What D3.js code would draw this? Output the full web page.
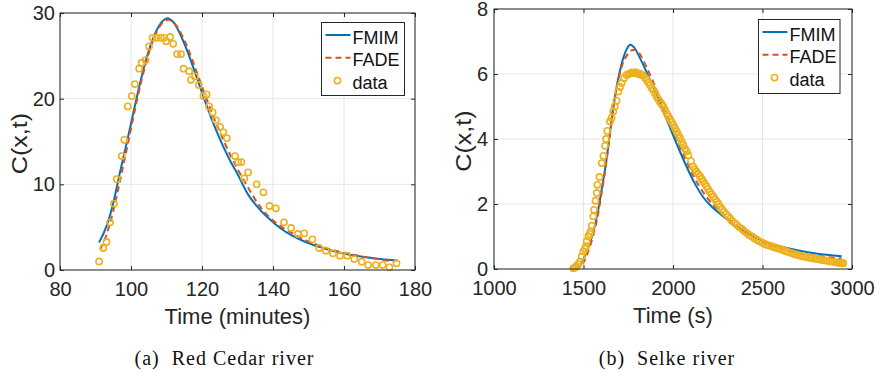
<!DOCTYPE html>
<html>
<head>
<meta charset="utf-8">
<script src="https://cdn.jsdelivr.net/npm/d3@7"></script>
<style>
	body { margin: 0; background: #fff; }
	svg { display: block; font-family: "Liberation Sans", Arial, sans-serif; }
	.grid line { stroke: #e6e6e6; stroke-width: 1; }
	.axis text { fill: #262626; font-size: 20px; }
	.axis line { stroke: #262626; }
	.axis path { display: none; }
	.label { fill: #262626; font-size: 22px; }
	.caption { fill: #111; font-family: "Liberation Serif", "Times New Roman", serif; font-size: 20px; letter-spacing: 1px; }
	.legend text { fill: #111; font-size: 18px; }
</style>
</head>
<body>
<div id="chart"></div>
<script>
// (a) Red Cedar river, time in minutes
const cedarTicksX = [80, 100, 120, 140, 160, 180];
const cedarTicksY = [0, 10, 20, 30];
const cedarFmim = [[91, 3.2], [93, 5.0], [95, 7.8], [97, 11.6], [99, 15.2], [101, 19.0], [103, 22.6],
	[105, 25.6], [107, 27.8], [109, 29.1], [110.2, 29.4], [112, 28.9], [114, 27.4], [116, 25.4],
	[118, 23.1], [120, 20.7], [122, 18.4], [124, 16.3], [126, 14.4], [128, 12.7], [130, 11.2],
	[133, 8.8], [136, 7.2], [139, 5.95], [142, 4.9], [145, 4.1], [149, 3.3], [153, 2.7], [158, 2.1],
	[163, 1.7], [169, 1.35], [175, 1.1]];
const cedarFade = [[91.3, 2.4], [93, 4.0], [95, 6.9], [97, 10.6], [99, 14.5], [101, 18.5], [103, 22.2],
	[105, 25.3], [107, 27.6], [109, 28.9], [110.5, 29.2], [112, 28.9], [114, 27.7], [116, 25.9],
	[118, 23.7], [120, 21.4], [122, 19.2], [124, 17.1], [126, 15.2], [128, 13.4], [130, 11.8],
	[133, 9.6], [136, 7.6], [139, 6.15], [142, 5.15], [145, 4.4], [149, 3.5], [153, 2.85], [158, 2.2],
	[163, 1.75], [169, 1.3], [174, 1.0]];
const cedarData = [[91.0, 1.0], [92.2, 2.57], [93.1, 3.27], [94.1, 5.56], [95.2, 7.74], [96.0, 10.6],
	[97.4, 13.3], [98.1, 15.2], [99.1, 19.1], [100.2, 20.3], [101.1, 21.7], [102.3, 23.5], [103.0, 24.2],
	[104.1, 24.5], [105.1, 26.1], [106.1, 27.1], [107.2, 27.1], [108.4, 27.1], [109.3, 27.1],
	[109.9, 26.7], [111.0, 27.2], [111.9, 26.4], [113.0, 25.2], [114.1, 25.2], [114.8, 23.5],
	[116.4, 23.2], [116.9, 22.2], [118.0, 22.6], [119.1, 21.6], [120.4, 20.3], [121.3, 20.5],
	[122.0, 19.1], [123.0, 18.4], [123.9, 17.5], [125.1, 16.7], [126.0, 16.1], [127.0, 15.4],
	[129.3, 13.3], [130.2, 12.6], [131.1, 12.6], [131.9, 10.7], [133.0, 11.4], [135.4, 10.0],
	[137.3, 9.07], [139.0, 7.47], [140.8, 7.2], [143.1, 5.56], [145.1, 4.9], [147.0, 4.2],
	[148.8, 4.28], [151.1, 3.58], [153.0, 2.57], [154.9, 2.26], [156.9, 1.94], [158.9, 1.67],
	[160.9, 1.67], [162.9, 1.28], [165.0, 0.97], [166.8, 0.58], [169.0, 0.58], [170.9, 0.58],
	[172.8, 0.31], [174.8, 0.78]];

// (b) Selke river, time in seconds
const selkeTicksX = [1000, 1500, 2000, 2500, 3000];
const selkeTicksY = [0, 2, 4, 6, 8];
const selkeFmim = [[1450, 0.0], [1480, 0.1], [1500, 0.3], [1530, 0.7], [1555, 1.15], [1580, 1.75],
	[1600, 2.4], [1620, 3.05], [1640, 3.85], [1667, 5.0], [1690, 5.75], [1715, 6.35], [1740, 6.75],
	[1762, 6.9], [1785, 6.8], [1810, 6.55], [1853, 6.05], [1890, 5.6], [1927, 5.1], [1965, 4.6],
	[2002, 4.1], [2040, 3.6], [2080, 3.1], [2120, 2.65], [2170, 2.2], [2220, 1.9], [2281, 1.62],
	[2350, 1.32], [2420, 1.1], [2504, 0.86], [2600, 0.69], [2700, 0.57], [2800, 0.48], [2942, 0.39]];
const selkeFade = [[1450, 0.0], [1480, 0.05], [1500, 0.2], [1530, 0.6], [1555, 1.05], [1580, 1.65],
	[1600, 2.3], [1620, 3.0], [1640, 3.8], [1667, 4.95], [1690, 5.7], [1715, 6.25], [1740, 6.55],
	[1765, 6.72], [1790, 6.75], [1810, 6.65], [1853, 6.2], [1890, 5.75], [1927, 5.25], [1965, 4.75],
	[2002, 4.25], [2040, 3.75], [2080, 3.25], [2120, 2.8], [2170, 2.35], [2220, 2.0], [2281, 1.68],
	[2350, 1.35], [2420, 1.08], [2504, 0.82], [2600, 0.62], [2700, 0.49], [2800, 0.41], [2942, 0.32]];
const selkeData = [[1443, 0.02], [1452, 0.05], [1460, 0.08], [1470, 0.15], [1480, 0.23], [1490, 0.39],
	[1499, 0.54], [1508, 0.62], [1514, 0.70], [1518, 0.85], [1527, 1.0], [1534, 1.08], [1540, 1.16],
	[1546, 1.33], [1555, 1.62], [1559, 1.82], [1567, 2.1], [1574, 2.34], [1577, 2.59], [1589, 2.83],
	[1602, 3.26], [1611, 3.48], [1620, 3.79], [1626, 4.0], [1633, 4.25], [1648, 4.54], [1657, 4.65],
	[1666, 4.85], [1675, 5.0], [1684, 5.18], [1695, 5.46], [1704, 5.6], [1713, 5.72], [1726, 5.87],
	[1741, 5.97], [1752, 6.0], [1760, 6.02], [1770, 6.05], [1778, 6.03], [1788, 6.05], [1797, 6.04],
	[1806, 6.0], [1816, 6.0], [1825, 5.97], [1834, 5.95], [1845, 5.88], [1853, 5.82], [1862, 5.74],
	[1872, 5.66], [1880, 5.58], [1890, 5.51], [1900, 5.4], [1909, 5.3], [1918, 5.22], [1927, 5.15],
	[1936, 5.08], [1946, 5.0], [1955, 4.9], [1965, 4.79], [1974, 4.7], [1983, 4.61], [1993, 4.52],
	[2002, 4.43], [2011, 4.33], [2021, 4.23], [2030, 4.13], [2039, 4.03], [2049, 3.92], [2058, 3.82],
	[2067, 3.7], [2077, 3.62], [2086, 3.5], [2100, 3.32], [2113, 3.15], [2121, 3.07], [2130, 3.0],
	[2140, 2.93], [2151, 2.85], [2160, 2.77], [2168, 2.7], [2178, 2.62], [2188, 2.54], [2196, 2.46],
	[2205, 2.38], [2215, 2.3], [2225, 2.23], [2235, 2.15], [2245, 2.07], [2254, 2.0], [2263, 1.92],
	[2274, 1.84], [2285, 1.76], [2297, 1.69], [2309, 1.62], [2320, 1.55], [2330, 1.48], [2343, 1.42],
	[2356, 1.36], [2370, 1.29], [2385, 1.23], [2398, 1.17], [2412, 1.11], [2426, 1.05], [2440, 1.0],
	[2454, 0.95], [2468, 0.90], [2481, 0.86], [2495, 0.82], [2509, 0.78], [2523, 0.75], [2536, 0.72],
	[2550, 0.70], [2565, 0.67], [2579, 0.65], [2593, 0.62], [2607, 0.60], [2621, 0.57], [2635, 0.54],
	[2649, 0.51], [2663, 0.49], [2677, 0.46], [2691, 0.44], [2704, 0.42], [2718, 0.40], [2732, 0.38],
	[2746, 0.37], [2760, 0.35], [2774, 0.34], [2788, 0.32], [2802, 0.31], [2816, 0.30], [2830, 0.28],
	[2844, 0.27], [2858, 0.26], [2872, 0.24], [2886, 0.23], [2900, 0.22], [2914, 0.20], [2925, 0.19],
	[2935, 0.19], [2944, 0.18], [2951, 0.18]];

const legendNames = ['FMIM', 'FADE', 'data'];
const colors = { fmim: '#0072BD', fade: '#D95319', data: '#EDB120' };

class RiverPanel {

	/**
	 * @param {d3.selection} svg
	 * @param {Object} frame  box of the axes in page pixels
	 */
	constructor(svg, frame) {
		this.g = svg.append('g');
		this.frame = frame;
	}

	/**
	 * @param {Object} state
	 */
	draw(state) {
		const f = this.frame;
		this.x = d3.scaleLinear().domain(d3.extent(state.ticksX)).range([f.left, f.right]);
		this.y = d3.scaleLinear().domain(d3.extent(state.ticksY)).range([f.bottom, f.top]);

		this._drawGrid(state);
		this._drawLines(state);
		this._drawBox(state);
		this._drawLegend();

		this.g.append('text')
			.attr('class', 'label')
			.attr('x', (f.left + f.right) / 2)
			.attr('y', f.bottom + 54)
			.attr('text-anchor', 'middle')
			.text(state.xLabel);

		this.g.append('text')
			.attr('class', 'label')
			.attr('transform', `translate(${f.yLabelX},${(f.top + f.bottom) / 2 + 2}) rotate(-90) scale(1.14,1)`)
			.attr('text-anchor', 'middle')
			.text('C(x,t)');

		this.g.append('text')
			.attr('class', 'caption')
			.attr('x', (f.left + f.right) / 2 + f.captionShift)
			.attr('y', 365)
			.attr('text-anchor', 'middle')
			.attr('xml:space', 'preserve')
			.text(state.caption);
	}

	_drawGrid(state) {
		const f = this.frame;
		const grid = this.g.append('g').attr('class', 'grid');
		grid.selectAll('.gx')
			.data(state.ticksX)
			.join('line')
			.attr('x1', d => this.x(d)).attr('x2', d => this.x(d))
			.attr('y1', f.top).attr('y2', f.bottom);
		grid.selectAll('.gy')
			.data(state.ticksY)
			.join('line')
			.attr('y1', d => this.y(d)).attr('y2', d => this.y(d))
			.attr('x1', f.left).attr('x2', f.right);
	}

	_drawLines(state) {
		const line = d3.line()
			.x(d => this.x(d[0]))
			.y(d => this.y(d[1]))
			.curve(d3.curveMonotoneX);

		this.g.append('path')
			.datum(state.fmim)
			.attr('fill', 'none')
			.attr('stroke', colors.fmim)
			.attr('stroke-width', 2)
			.attr('d', line);

		this.g.append('path')
			.datum(state.fade)
			.attr('fill', 'none')
			.attr('stroke', colors.fade)
			.attr('stroke-width', 2)
			.attr('stroke-dasharray', '6,4')
			.attr('d', line);

		this.g.append('g')
			.selectAll('circle')
			.data(state.data)
			.join('circle')
			.attr('cx', d => this.x(d[0]))
			.attr('cy', d => this.y(d[1]))
			.attr('r', 3.1)
			.attr('fill', 'none')
			.attr('stroke', colors.data)
			.attr('stroke-width', 1.6);
	}

	_drawBox(state) {
		const f = this.frame;
		const tick = -4;

		this.g.append('g')
			.attr('class', 'axis')
			.attr('transform', `translate(0,${f.bottom})`)
			.call(d3.axisBottom(this.x).tickValues(state.ticksX).tickSizeInner(tick).tickPadding(12)
				.tickFormat(d3.format('d')));
		this.g.append('g')
			.attr('class', 'axis')
			.attr('transform', `translate(0,${f.top})`)
			.call(d3.axisTop(this.x).tickValues(state.ticksX).tickSizeInner(tick).tickFormat(''));
		this.g.append('g')
			.attr('class', 'axis')
			.attr('transform', `translate(${f.left},0)`)
			.call(d3.axisLeft(this.y).tickValues(state.ticksY).tickSizeInner(tick).tickPadding(f.yPad));
		this.g.append('g')
			.attr('class', 'axis')
			.attr('transform', `translate(${f.right},0)`)
			.call(d3.axisRight(this.y).tickValues(state.ticksY).tickSizeInner(tick).tickFormat(''));

		this.g.append('rect')
			.attr('x', f.left).attr('y', f.top)
			.attr('width', f.right - f.left).attr('height', f.bottom - f.top)
			.attr('fill', 'none')
			.attr('stroke', '#262626')
			.attr('stroke-width', 1);
	}

	_drawLegend() {
		const L = this.frame.legend;
		const legend = this.g.append('g').attr('class', 'legend')
			.attr('transform', `translate(${L.x},${L.y})`);

		legend.append('rect')
			.attr('width', L.w).attr('height', L.h)
			.attr('fill', '#fff')
			.attr('stroke', '#262626')
			.attr('stroke-width', 1);

		const rows = legend.selectAll('.row')
			.data(legendNames)
			.join('g')
			.attr('transform', (d, i) => `translate(0,${12.5 + i * 22.8})`);

		rows.filter((d, i) => i < 2)
			.append('line')
			.attr('x1', 4).attr('x2', 29)
			.attr('stroke', (d, i) => i === 0 ? colors.fmim : colors.fade)
			.attr('stroke-width', 2)
			.attr('stroke-dasharray', (d, i) => i === 0 ? null : '6,4');

		rows.filter((d, i) => i === 2)
			.append('circle')
			.attr('cx', 16).attr('r', 3.1)
			.attr('fill', 'none')
			.attr('stroke', colors.data)
			.attr('stroke-width', 1.6);

		rows.append('text')
			.attr('x', 31)
			.attr('y', 8.5)
			.text(d => d);
	}
}

const svg = d3.select('#chart').append('svg')
	.attr('width', 877)
	.attr('height', 373);

new RiverPanel(svg, {
	left: 60, right: 415, top: 13, bottom: 270, yPad: 5, yLabelX: 27, captionShift: -13,
	legend: { x: 321.5, y: 22.5, w: 83, h: 73 }
}).draw({
	ticksX: cedarTicksX, ticksY: cedarTicksY,
	fmim: cedarFmim, fade: cedarFade, data: cedarData,
	xLabel: 'Time (minutes)', caption: '(a)  Red Cedar river'
});

new RiverPanel(svg, {
	left: 494, right: 852, top: 9, bottom: 269, yPad: 6, yLabelX: 471, captionShift: -6,
	legend: { x: 758.5, y: 19.5, w: 81.5, h: 74 }
}).draw({
	ticksX: selkeTicksX, ticksY: selkeTicksY,
	fmim: selkeFmim, fade: selkeFade, data: selkeData,
	xLabel: 'Time (s)', caption: '(b)  Selke river'
});
</script>
</body>
</html>
